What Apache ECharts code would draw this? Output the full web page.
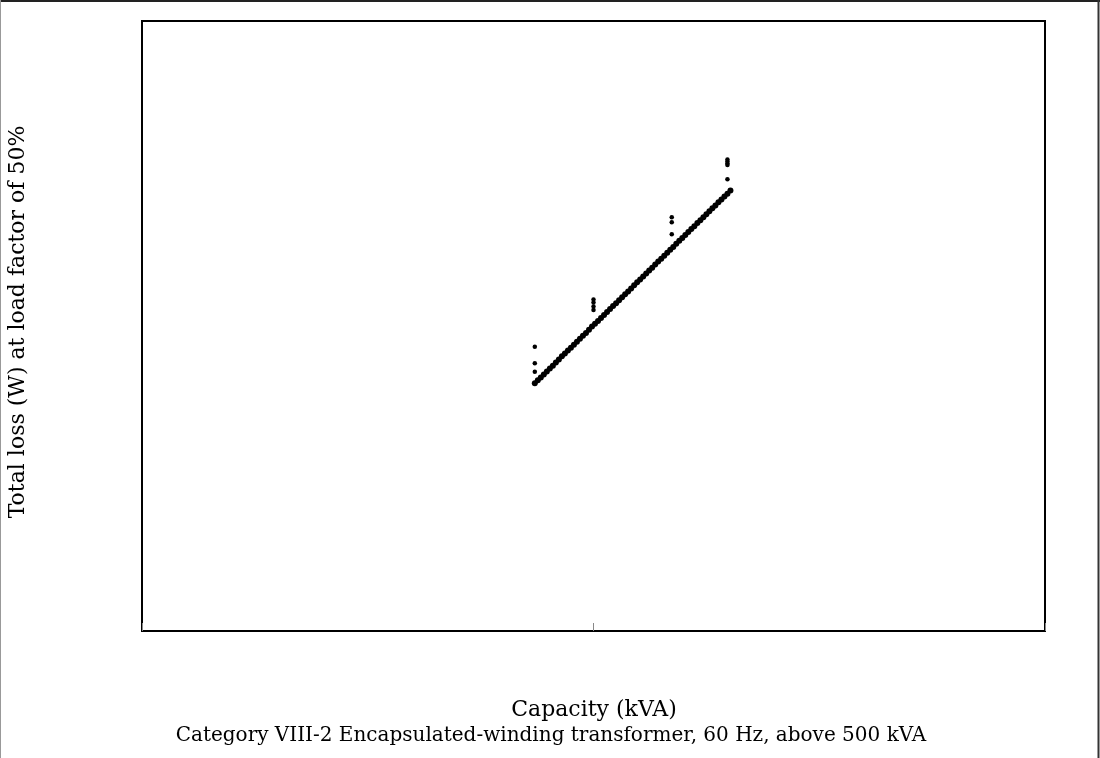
<!DOCTYPE html>
<html>
<head>
<meta charset="utf-8">
<title>Category VIII-2 total loss vs capacity</title>
<script src="https://cdn.jsdelivr.net/npm/echarts@6/dist/echarts.min.js"></script>
<style>
  html, body { margin: 0; padding: 0; background: #fff; }
  #chart { width: 1100px; height: 758px; }
</style>
</head>
<body>
<div id="chart"></div>
<script>
// Capacity (kVA) of the main product line, one entry every 10 kVA
const capacityKVA = [
  1305, 1315, 1325, 1335, 1345, 1355, 1365, 1375, 1385, 1395,
  1405, 1415, 1425, 1435, 1445, 1455, 1465, 1475, 1485, 1495,
  1505, 1515, 1525, 1535, 1545, 1555, 1565, 1575, 1585, 1595,
  1605, 1615, 1625, 1635, 1645, 1655, 1665, 1675, 1685, 1695,
  1705, 1715, 1725, 1735, 1745, 1755, 1765, 1775, 1785, 1795,
  1805, 1815, 1825, 1835, 1845, 1855, 1865, 1875, 1885, 1895,
  1905, 1915, 1925, 1935, 1945, 1955
];
// Total loss (W) at 50 % load for the capacities above
const totalLossW = [
  12180, 12330, 12470, 12620, 12760, 12910, 13050, 13200, 13350, 13510,
  13650, 13800, 13930, 14080, 14230, 14370, 14520, 14660, 14820, 14980,
  15110, 15250, 15390, 15540, 15690, 15830, 15980, 16120, 16270, 16420,
  16560, 16700, 16850, 17010, 17150, 17290, 17440, 17580, 17730, 17870,
  18020, 18170, 18310, 18460, 18600, 18750, 18890, 19040, 19190, 19330,
  19480, 19620, 19770, 19910, 20060, 20200, 20350, 20500, 20640, 20790,
  20930, 21080, 21220, 21370, 21510, 21660
];
// Units whose losses sit above the main line
const extraKVA = [1305, 1305, 1305, 1500, 1500, 1500, 1500, 1760, 1760, 1760, 1945, 1945, 1945, 1945, 1945];
const extraLossW = [13980, 13170, 12750, 16300, 16150, 15960, 15790, 20350, 20100, 19510, 23190, 23090, 22990, 22920, 22220];

// Axis settings (labels are not printed on this chart)
const xMin = 0, xMax = 3000, xStep = 1500;
const yMin = 0, yMax = 30000;

const xTitle = 'Capacity (kVA)';
const yTitle = 'Total loss (W) at load factor of 50%';
const caption = 'Category VIII-2 Encapsulated-winding transformer, 60 Hz, above 500 kVA';

const mainPoints = capacityKVA.map((c, i) => [c, totalLossW[i]]);
const extraPoints = extraKVA.map((c, i) => [c, extraLossW[i]]);

const serif = '"DejaVu Serif", "Liberation Serif", serif';

const chart = echarts.init(document.getElementById('chart'), null, { renderer: 'canvas' });
chart.setOption({
  animation: false,
  backgroundColor: '#fff',
  grid: {
    left: 142, top: 21, width: 903, height: 610,
    outerBoundsMode: 'none', containLabel: false,
    show: true, borderColor: '#000', borderWidth: 2, backgroundColor: 'transparent'
  },
  xAxis: {
    type: 'value', min: xMin, max: xMax, interval: xStep,
    axisLine: { show: false },
    axisTick: { show: true, inside: true, length: 8, lineStyle: { color: '#888', width: 1 } },
    axisLabel: { show: false },
    splitLine: { show: false }
  },
  yAxis: {
    type: 'value', min: yMin, max: yMax,
    axisLine: { show: false },
    axisTick: { show: false },
    axisLabel: { show: false },
    splitLine: { show: false }
  },
  graphic: [
    { type: 'text', x: 594, y: 710,
      style: { text: xTitle, font: '22px ' + serif, fill: '#000', align: 'center', verticalAlign: 'middle' } },
    { type: 'text', x: 551, y: 736,
      style: { text: caption, font: '20px ' + serif, fill: '#000', align: 'center', verticalAlign: 'middle' } },
    { type: 'text', x: 18, y: 322, rotation: Math.PI / 2,
      style: { text: yTitle, font: '22px ' + serif, fill: '#000', align: 'center', verticalAlign: 'middle' } },
    { type: 'line', shape: { x1: 0, y1: 1, x2: 1100, y2: 1 }, style: { stroke: '#222', lineWidth: 2 } },
    { type: 'line', shape: { x1: 0.5, y1: 0, x2: 0.5, y2: 758 }, style: { stroke: '#999', lineWidth: 1 } },
    { type: 'line', shape: { x1: 1098.5, y1: 0, x2: 1098.5, y2: 758 }, style: { stroke: '#333', lineWidth: 2 } }
  ],
  series: [{
    type: 'scatter',
    data: mainPoints,
    symbol: 'circle',
    symbolSize: 6,
    itemStyle: { color: '#000', opacity: 1 },
    emphasis: { disabled: true }
  }, {
    type: 'scatter',
    data: extraPoints,
    symbol: 'circle',
    symbolSize: 4.5,
    itemStyle: { color: '#000', opacity: 1 },
    emphasis: { disabled: true }
  }]
});
</script>
</body>
</html>
